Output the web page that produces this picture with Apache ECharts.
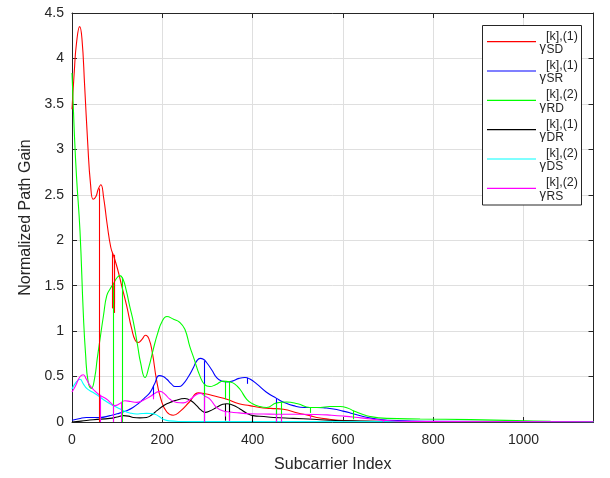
<!DOCTYPE html>
<html><head><meta charset="utf-8">
<script src="https://cdn.jsdelivr.net/npm/echarts@6/dist/echarts.min.js"></script>
<style>html,body{margin:0;padding:0;background:#fff}#c{width:610px;height:478px}</style>
</head><body><div id="c"></div>
<script>
// ---- data ----
const xTickLabels = [0, 200, 400, 600, 800, 1000];
const yTickLabels = [0, 0.5, 1, 1.5, 2, 2.5, 3, 3.5, 4, 4.5];
const xMax = 1155;
const seriesNames = ['SD', 'SR', 'RD', 'DR', 'DS', 'RS'];
const seriesSup = ['[k],(1)', '[k],(1)', '[k],(2)', '[k],(1)', '[k],(2)', '[k],(2)'];
const seriesColors = ['#ff0000', '#0000ff', '#00ff00', '#000000', '#00ffff', '#ff00ff'];

const sdPts = [[0,3.44],[5,3.85],[10,4.17],[17,4.35],[22,4.22],[28,3.7],[35,3.05],[41,2.62],[47,2.45],[53,2.48],[58,2.56],[64,2.61],[70,2.47],[78,2.17],[86,1.92],[92,1.83],[100,1.7],[110,1.5],[121,1.28],[132,1.03],[140,0.9],[147,0.875],[155,0.91],[163,0.955],[170,0.92],[178,0.76],[187,0.47],[197,0.25],[210,0.11],[224,0.075],[240,0.12],[260,0.22],[280,0.32],[295,0.31],[320,0.28],[343,0.25],[370,0.2],[394,0.18],[416,0.16],[440,0.15],[468,0.14],[500,0.1],[527,0.07],[542,0.05],[570,0.03],[601,0.015],[650,0.008],[750,0.004],[1155,0.002]];
const srPts = [[0,0.02],[15,0.035],[32,0.05],[62,0.05],[84,0.07],[100,0.09],[121,0.125],[135,0.16],[150,0.216],[162,0.27],[173,0.326],[183,0.42],[193,0.51],[202,0.5],[210,0.47],[220,0.42],[228,0.39],[237,0.39],[246,0.417],[258,0.5],[269,0.6],[276,0.67],[284,0.7],[291,0.69],[298,0.655],[310,0.57],[320,0.49],[331,0.45],[343,0.44],[355,0.45],[370,0.48],[383,0.49],[395,0.47],[409,0.42],[430,0.33],[453,0.26],[470,0.215],[490,0.18],[515,0.16],[542,0.16],[560,0.155],[579,0.143],[600,0.12],[616,0.1],[645,0.06],[675,0.033],[720,0.015],[800,0.008],[1155,0.003]];
const rdPts = [[0,3.84],[5,3.2],[10,2.7],[17.7,2.1],[25,1.2],[30,0.75],[36,0.435],[43,0.37],[50,0.48],[56,0.7],[62,0.91],[70,1.18],[77,1.39],[85,1.47],[91.5,1.52],[100,1.59],[106,1.61],[113,1.57],[120,1.45],[128,1.27],[136,1.1],[145,0.85],[152,0.65],[161.7,0.49],[170,0.6],[180,0.8],[190,0.98],[199,1.1],[210,1.16],[225,1.13],[239,1.095],[250,1.02],[261,0.83],[270,0.7],[283,0.51],[294,0.41],[305,0.39],[318,0.41],[335,0.45],[350,0.44],[360,0.42],[372,0.36],[387,0.25],[400,0.2],[416,0.17],[431,0.16],[453,0.21],[475,0.22],[500,0.2],[527,0.16],[550,0.16],[571,0.17],[594,0.17],[610,0.155],[623,0.125],[640,0.09],[660,0.06],[697,0.04],[771,0.033],[883,0.026],[985,0.015],[1060,0.008],[1155,0.004]];
const drPts = [[0,0.0],[20,0.01],[47,0.025],[84,0.04],[100,0.055],[114,0.07],[125,0.065],[136,0.05],[150,0.045],[165,0.05],[177,0.08],[188,0.125],[200,0.17],[210,0.2],[228,0.235],[250,0.258],[262,0.24],[276,0.18],[286,0.13],[295,0.106],[305,0.12],[320,0.16],[334,0.195],[343,0.2],[357,0.185],[372,0.143],[386,0.1],[401,0.07],[425,0.06],[446,0.05],[490,0.04],[534,0.03],[570,0.02],[620,0.012],[700,0.006],[1155,0.002]];
const dsPts = [[0,0.36],[8,0.43],[17.7,0.47],[25,0.42],[32.5,0.37],[45,0.33],[55,0.3],[70,0.245],[84,0.2],[100,0.16],[114,0.125],[128,0.1],[143,0.088],[155,0.093],[165,0.095],[175,0.093],[184,0.085],[193,0.06],[202,0.03],[215,0.012],[240,0.006],[300,0.004],[1155,0.002]];
const rsPts = [[0,0.33],[8,0.4],[18,0.5],[25,0.52],[32,0.47],[40,0.4],[47,0.36],[60,0.3],[77,0.25],[86,0.21],[95,0.18],[105,0.2],[117,0.234],[130,0.225],[143,0.216],[158,0.24],[173,0.28],[185,0.32],[195,0.337],[205,0.31],[217,0.25],[232,0.215],[246,0.21],[262,0.25],[275,0.3],[284,0.315],[296,0.28],[306,0.25],[320,0.16],[335,0.12],[350,0.11],[370,0.1],[394,0.09],[424,0.088],[453,0.085],[500,0.085],[542,0.083],[575,0.075],[601,0.065],[640,0.045],[690,0.018],[750,0.006],[1155,0.002]];

// notches: [x, value before notch, value at bottom of notch]
const sdSpikes = [[60,2.57,0],[90,1.86,1.25],[92.5,1.84,1.2],[94.5,1.82,1.3]];
const srSpikes = [[180,0.4,0.27],[293,0.67,0],[389,0.485,0.42],[453,0.26,0]];
const rdSpikes = [[91.5,1.52,0],[111,1.59,0],[292,0.42,0],[339,0.45,0.25],[348,0.44,0.05],[453,0.21,0],[464,0.215,0],[527,0.16,0.1],[623,0.125,0.03]];
const drSpikes = [[339,0.2,0.015],[348,0.2,0.015],[400,0.072,0]];
const dsSpikes = [];
const rsSpikes = [[62,0.3,0],[91.5,0.19,0],[110,0.22,0],[180,0.3,0.25],[293,0.28,0],[339,0.12,0.06],[348,0.11,0.01],[453,0.085,0],[464,0.085,0],[527,0.085,0.03],[690,0.018,0]];

const allPts = [sdPts, srPts, rdPts, drPts, dsPts, rsPts];
const allSpikes = [sdSpikes, srSpikes, rdSpikes, drSpikes, dsSpikes, rsSpikes];

// ---- chart ----
const FONT = "'Liberation Sans', Arial, Helvetica, sans-serif";
const AX = '#262626';
const chart = echarts.init(document.getElementById('c'), null, {renderer: 'canvas'});

const grid = {left: 72, top: 13, width: 521.5, height: 410};

const series = seriesNames.map((n, i) => ({
  name: n,
  type: 'line',
  data: allPts[i],
  symbol: 'none',
  showSymbol: false,
  smooth: 0.5,
  lineStyle: {color: seriesColors[i], width: 1.1},
  itemStyle: {color: seriesColors[i]},
  animation: false,
  silent: true,
  z: 2,
  markLine: {
    silent: true,
    animation: false,
    symbol: ['none', 'none'],
    label: {show: false},
    lineStyle: {color: seriesColors[i], width: 1.1, type: 'solid'},
    emphasis: {disabled: true},
    data: allSpikes[i].map(s => [{coord: [s[0], s[1]]}, {coord: [s[0], s[2]]}])
  }
}));

const graphics = [];
const rowY0 = 41.7, rowStep = 29.32;
graphics.push({
  type: 'rect', z: 3,
  shape: {x: 482.5, y: 25.5, width: 99, height: 179.5},
  style: {fill: '#ffffff', stroke: AX, lineWidth: 1}
});
seriesNames.forEach((n, i) => {
  const y = rowY0 + i * rowStep;
  graphics.push({type: 'text', z: 6, x: 539.5, y: y + 6,
    style: {text: 'γ', font: '13px ' + FONT, fill: AX, align: 'left', verticalAlign: 'middle', textAlign: 'left', textVerticalAlign: 'middle'}});
  graphics.push({type: 'text', z: 6, x: 546, y: y - 5.5,
    style: {text: seriesSup[i], font: '12.5px ' + FONT, fill: AX, align: 'left', verticalAlign: 'middle', textAlign: 'left', textVerticalAlign: 'middle'}});
  graphics.push({type: 'text', z: 6, x: 546.5, y: y + 8,
    style: {text: n, font: '12px ' + FONT, fill: AX, align: 'left', verticalAlign: 'middle', textAlign: 'left', textVerticalAlign: 'middle'}});
});

const option = {
  backgroundColor: '#ffffff',
  animation: false,
  textStyle: {fontFamily: FONT},
  grid: grid,
  legend: {
    orient: 'vertical', left: 487, top: 41.1,
    itemWidth: 49, itemHeight: 1.2, itemGap: 28.12,
    icon: 'rect',
    padding: 0, z: 5,
    selectedMode: false,
    formatter: () => '',
    textStyle: {fontSize: 1},
    data: seriesNames
  },
  xAxis: [{
    type: 'value', min: 0, max: xMax, interval: 200, position: 'bottom',
    name: 'Subcarrier Index', nameLocation: 'middle', nameGap: 35,
    nameTextStyle: {color: AX, fontSize: 16, fontFamily: FONT},
    axisLine: {show: true, onZero: false, lineStyle: {color: AX, width: 1}},
    axisTick: {show: true, inside: true, length: 5, lineStyle: {color: AX}},
    axisLabel: {color: AX, fontSize: 14, fontFamily: FONT, margin: 11, showMaxLabel: false,
      formatter: v => xTickLabels.includes(v) ? String(v) : ''},
    splitLine: {show: true, lineStyle: {color: '#dfdfdf', width: 1}}
  }, {
    type: 'value', min: 0, max: xMax, interval: 200, position: 'top',
    axisLine: {show: true, onZero: false, lineStyle: {color: AX, width: 1}},
    axisTick: {show: true, inside: true, length: 5, lineStyle: {color: AX}},
    axisLabel: {show: false}, splitLine: {show: false}
  }],
  yAxis: [{
    type: 'value', min: 0, max: 4.5, interval: 0.5, position: 'left',
    name: 'Normalized Path Gain', nameLocation: 'middle', nameGap: 35,
    nameTextStyle: {color: AX, fontSize: 16, fontFamily: FONT},
    axisLine: {show: true, onZero: false, lineStyle: {color: AX, width: 1}},
    axisTick: {show: true, inside: true, length: 5, lineStyle: {color: AX}},
    axisLabel: {color: AX, fontSize: 14, fontFamily: FONT, margin: 8,
      formatter: v => yTickLabels.includes(v) ? String(v) : ''},
    splitLine: {show: true, lineStyle: {color: '#dfdfdf', width: 1}}
  }, {
    type: 'value', min: 0, max: 4.5, interval: 0.5, position: 'right',
    axisLine: {show: true, onZero: false, lineStyle: {color: AX, width: 1}},
    axisTick: {show: true, inside: true, length: 5, lineStyle: {color: AX}},
    axisLabel: {show: false}, splitLine: {show: false}
  }],
  series: series,
  graphic: {elements: graphics}
};
chart.setOption(option);
</script></body></html>
